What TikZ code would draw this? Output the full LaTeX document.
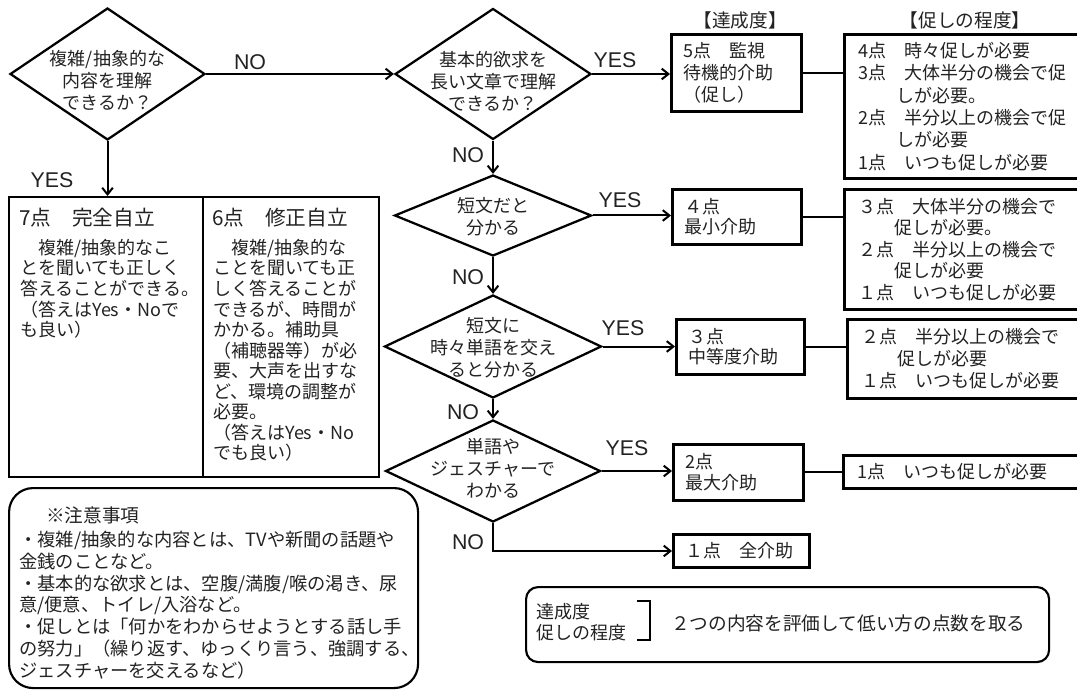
\documentclass[tikz,border=0pt]{standalone}
\usepackage{fontspec}
\setmainfont{Noto Sans CJK JP}
\newfontfamily\latinf{Liberation Sans}
\usetikzlibrary{arrows.meta,shapes.geometric}
\definecolor{tc}{HTML}{222222}
\begin{document}
\begin{tikzpicture}[x=0.75pt,y=-0.75pt,
  jp/.style={font=\fontsize{13.5pt}{16.5pt}\selectfont, text=tc, inner sep=0pt},
  lbl/.style={font=\latinf\fontsize{16pt}{18pt}\selectfont, text=tc, inner sep=0pt},
  dia/.style={diamond, draw, line width=1.7pt, inner sep=0pt, aspect=1},
  dtext/.style={jp, align=center},
  boxn/.style={draw, line width=2.2pt, rectangle, anchor=north west, inner ysep=0pt,
    align=left, font=\fontsize{13.5pt}{16.5pt}\selectfont, text=tc},
  cell/.style={draw, line width=1.2pt, rectangle, anchor=north west, inner sep=0pt, minimum height=210pt},
  conn/.style={line width=1.5pt},
  arr/.style={conn, -{Straight Barb[length=5pt,width=8pt]}},
  rbox/.style={draw, line width=1.6pt, rectangle, anchor=north west, inner sep=0pt}
]
\useasboundingbox (0,0) rectangle (1077,695);
\clip (0,0) rectangle (1077,695);

% diamonds
\node[dia, minimum width=146.25pt, minimum height=99pt] (d1) at (107.5,74) {};
\node[dia, minimum width=147pt, minimum height=98.25pt] (d2) at (493,74) {};
\node[dia, minimum width=147.75pt, minimum height=60.75pt] (d3) at (493,215.5) {};
\node[dia, minimum width=162.75pt, minimum height=77.25pt] (d4) at (493,346.5) {};
\node[dia, minimum width=161.25pt, minimum height=76.5pt] (d5) at (493,471) {};

\node[dtext] (d1t) at (107.5,80) {複雑/抽象的な\\内容を理解\\できるか？};
\node[dtext] (d2t) at (493,81) {基本的欲求を\\長い文章で理解\\できるか？};
\node[dtext] (d3t) at (493,217) {短文だと\\分かる};
\node[dtext] (d4t) at (493,348) {短文に\\時々単語を交え\\ると分かる};
\node[dtext] (d5t) at (493,468) {単語や\\ジェスチャーで\\わかる};

% headers
\node[jp, font=\fontsize{14pt}{16pt}\selectfont] (h1) at (740,20) {【達成度】};
\node[jp, font=\fontsize{14pt}{16pt}\selectfont] (h2) at (965,20) {【促しの程度】};

% level boxes
\node[boxn, minimum width=97.5pt, minimum height=57.75pt, text width=79.5pt, inner xsep=9pt] (b5) at (670,33) {5点　監視\\待機的介助\\（促し）};
\node[boxn, minimum width=96.75pt, minimum height=41.25pt, text width=78.75pt, inner xsep=9pt, font=\fontsize{13.5pt}{15pt}\selectfont] (b4) at (671,188) {４点\\最小介助};
\node[boxn, minimum width=96pt, minimum height=41.25pt, text width=78pt, inner xsep=9pt, font=\fontsize{13.5pt}{15pt}\selectfont] (b3) at (675,318) {３点\\中等度介助};
\node[boxn, minimum width=97.5pt, minimum height=42pt, text width=79.5pt, inner xsep=9pt, font=\fontsize{13.5pt}{15.75pt}\selectfont] (b2) at (672,443) {2点\\最大介助};
\node[boxn, minimum width=102pt, minimum height=24.75pt, text width=84pt, inner xsep=9pt] (b1) at (672,533) {１点　全介助};

% prompting boxes
\node[boxn, minimum width=189pt, minimum height=108pt, text width=168pt, inner xsep=10.5pt, font=\fontsize{13.5pt}{16.8pt}\selectfont] (p1) at (843,33)
 {4点　時々促しが必要\\3点　大体半分の機会で促\\\hspace*{2.1em}しが必要。\\2点　半分以上の機会で促\\\hspace*{2.1em}しが必要\\1点　いつも促しが必要};
\node[boxn, minimum width=189pt, minimum height=90pt, text width=168pt, inner xsep=10.5pt, font=\fontsize{13.5pt}{16.1pt}\selectfont] (p2) at (843,188)
 {３点　大体半分の機会で\\\hspace*{2em}促しが必要。\\２点　半分以上の機会で\\\hspace*{2em}促しが必要\\１点　いつも促しが必要};
\node[boxn, minimum width=189pt, minimum height=59.25pt, text width=168pt, inner xsep=10.5pt, font=\fontsize{13.5pt}{16.5pt}\selectfont] (p3) at (846,318)
 {２点　半分以上の機会で\\\hspace*{2em}促しが必要\\１点　いつも促しが必要};
\node[boxn, minimum width=189pt, minimum height=24.75pt, text width=168pt, inner xsep=10.5pt] (p4) at (842,454)
 {1点　いつも促しが必要};

% table
\node[cell, minimum width=145.5pt] (t7) at (8,196) {};
\node[cell, minimum width=132pt] (t6) at (202,196) {};
\node[jp, anchor=north west, font=\fontsize{15.5pt}{18pt}\selectfont] (t7h) at (19,208) {7点　完全自立};
\node[jp, anchor=north west, font=\fontsize{15.5pt}{18pt}\selectfont] (t6h) at (212,208) {6点　修正自立};
\node[jp, anchor=north west, align=left, font=\fontsize{13.5pt}{15.4pt}\selectfont] (t7b) at (20,239)
 {　複雑/抽象的なこ\\とを聞いても正しく\\答えることができる。\\（答えはYes・Noで\\も良い）};
\node[jp, anchor=north west, align=left, font=\fontsize{13.5pt}{15.4pt}\selectfont] (t6b) at (213,239)
 {　複雑/抽象的な\\ことを聞いても正\\しく答えることが\\できるが、時間が\\かかる。補助具\\（補聴器等）が必\\要、大声を出すな\\ど、環境の調整が\\必要。\\（答えはYes・No\\でも良い）};

% notes
\node[rbox, rounded corners=18pt, minimum width=306.75pt, minimum height=150pt] (nb) at (8,487) {};
\node[jp, anchor=north west, font=\fontsize{14pt}{16pt}\selectfont] (nbt) at (46,507) {※注意事項};
\node[jp, anchor=north west, align=left, font=\fontsize{13.7pt}{16.3pt}\selectfont] (nbb) at (19,531)
 {・複雑/抽象的な内容とは、TVや新聞の話題や\\金銭のことなど。\\・基本的な欲求とは、空腹/満腹/喉の渇き、尿\\意/便意、トイレ/入浴など。\\・促しとは「何かをわからせようとする話し手\\の努力」（繰り返す、ゆっくり言う、強調する、\\ジェスチャーを交えるなど）};

% rule box
\node[rbox, rounded corners=9pt, minimum width=392.25pt, minimum height=56.25pt] (rb) at (525,586) {};
\node[jp, anchor=west, align=left, font=\fontsize{13.5pt}{15.75pt}\selectfont] (rbl) at (536,622.5) {達成度\\促しの程度};
\draw[line width=1.5pt] (637,601) -- (650,601) -- (650,640) -- (637,640);
\node[jp, anchor=west, font=\fontsize{14pt}{16pt}\selectfont] (rbm) at (671,623) {２つの内容を評価して低い方の点数を取る};

% connectors
\draw[arr] (d1.east) -- (d2.west);
\draw[arr] (d1.south) -- (d1.south |- t7.north);
\draw[arr] (d2.east) -- (d2.east -| b5.west);
\draw[arr] (d2.south) -- (d3.north);
\draw[arr] (d3.east) -- (d3.east -| b4.west);
\draw[arr] (d3.south) -- (d4.north);
\draw[arr] (d4.east) -- (d4.east -| b3.west);
\draw[arr] (d4.south) -- (d5.north);
\draw[arr] (d5.east) -- (d5.east -| b2.west);
\draw[arr] (d5.south) |- (b1.west);
\draw[conn] (b5.east) -- (b5.east -| p1.west);
\draw[conn] (b4.east) -- (b4.east -| p2.west);
\draw[conn] (b3.east) -- (b3.east -| p3.west);
\draw[conn] (b2.east) -- (b2.east -| p4.west);

% labels
\node[lbl] (l1) at (250,62) {NO};
\node[lbl] (l2) at (52,180) {YES};
\node[lbl] (l3) at (615,60) {YES};
\node[lbl] (l4) at (468,155) {NO};
\node[lbl] (l5) at (620,200) {YES};
\node[lbl] (l6) at (468,277) {NO};
\node[lbl] (l7) at (623,328) {YES};
\node[lbl] (l8) at (463,412) {NO};
\node[lbl] (l9) at (627,448) {YES};
\node[lbl] (l10) at (468,542) {NO};
\end{tikzpicture}
\end{document}
